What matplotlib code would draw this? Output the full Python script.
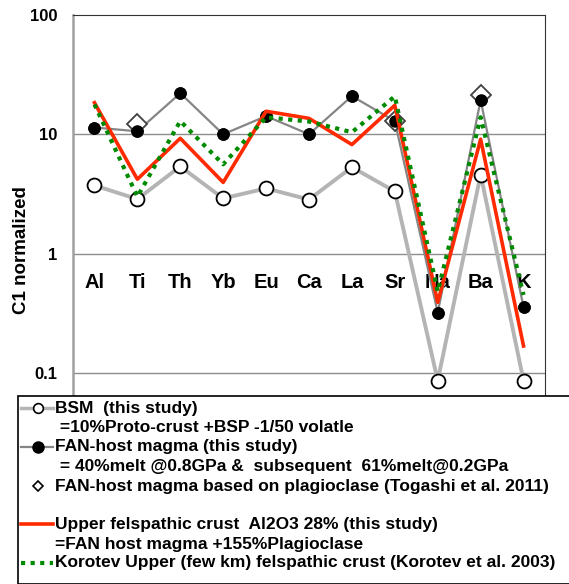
import matplotlib
matplotlib.use("Agg")
import matplotlib.pyplot as plt
import numpy as np
from matplotlib.lines import Line2D
from matplotlib.patches import Rectangle

plt.rcParams['font.family'] = ['Liberation Sans', 'DejaVu Sans']
plt.rcParams['font.weight'] = 'bold'

elements = ["Al", "Ti", "Th", "Yb", "Eu", "Ca", "La", "Sr", "Na", "Ba", "K"]
bsm = [3.73, 2.86, 5.38, 2.9, 3.52, 2.84, 5.3, 3.32, 0.086, 4.6, 0.086]
fan_host = [11.4, 10.6, 22.1, 10.0, 14.2, 10.0, 20.9, 12.9, 0.32, 19.3, 0.355]
togashi = [np.nan, 12.1, np.nan, np.nan, np.nan, np.nan, np.nan, 12.9, np.nan, 21.3, np.nan]
upper_crust = [18.4, 4.2, 9.25, 3.95, 15.6, 13.6, 8.2, 17.5, 0.39, 9.1, 0.168]
korotev = [17.8, 3.0, 12.9, 5.6, 13.9, 12.8, 10.4, 20.8, 0.48, 13.9, 0.45]

W, H = 569, 584
fig = plt.figure(figsize=(W / 100, H / 100), dpi=100)
ax = fig.add_axes([73 / W, 1 - 396 / H, 472 / W, 381 / H])

x = np.arange(len(elements))
c_bsm = "#b4b4b4"
c_fan = "#858585"
c_red = "#ff2a00"
c_grn = "#008a00"

ax.plot(x, bsm, color=c_bsm, lw=2.8, marker="o", ms=10, mfc="white", mec="black", mew=1.3, zorder=3)
ax.plot(x, fan_host, color=c_fan, lw=1.6, marker="o", ms=8, mfc="black", mec="black", zorder=4)
ax.plot(x, togashi, ls="none", marker="D", ms=10, mfc="white", mec="#404040", mew=1.3, zorder=5)
ax.plot(x, fan_host, ls="none", marker="o", ms=8, mfc="black", mec="black", zorder=5)
ax.plot(x, upper_crust, color=c_red, lw=2.6, zorder=6)
ax.plot(x, korotev, color=c_grn, lw=3.0, ls=(0, (1, 1.3)), zorder=7)

ax.set_yscale("log")
ax.set_ylim(0.064, 100)
ax.set_xlim(-0.5, len(elements) - 0.5)
ax.set_xticks([])
ax.set_yticks([0.1, 1, 10, 100])
ax.set_yticklabels(["0.1", "1", "10", "100"], fontsize=12, fontweight="bold")
ax.yaxis.set_minor_locator(matplotlib.ticker.NullLocator())
ax.tick_params(axis="y", length=0, pad=11.5)
for v in [0.1, 1, 10]:
    ax.axhline(v, color="#8c8c8c", lw=1.0, zorder=1)
ax.spines["top"].set_color("#333333")
ax.spines["right"].set_color("#333333")
ax.spines["left"].set_color("#a0a0a0")
ax.spines["left"].set_linewidth(1.8)
ax.spines["bottom"].set_visible(False)

for i, name in enumerate(elements):
    ax.text(i, 0.57, name, ha="center", va="center", fontsize=14.5, fontweight="bold", zorder=2)

fig.text(22 / W, 1 - 250 / H, "C1 normalized", rotation=90, ha="center", va="center",
         fontsize=13.5, fontweight="bold")

# legend box drawn by hand
def fy(py):
    return 1 - py / H

fig.patches.append(Rectangle((18 / W, 0), 1, fy(396), transform=fig.transFigure,
                             facecolor="white", edgecolor="black", lw=1.2, zorder=10))

rows = [
    (408, "BSM  (this study)"),
    (428, " =10%Proto-crust +BSP -1/50 volatle"),
    (447, "FAN-host magma (this study)"),
    (467, " = 40%melt @0.8GPa &  subsequent  61%melt@0.2GPa"),
    (486, "FAN-host magma based on plagioclase (Togashi et al. 2011)"),
    (524, "Upper felspathic crust  Al2O3 28% (this study)"),
    (544, "=FAN host magma +155%Plagioclase"),
    (563, "Korotev Upper (few km) felspathic crust (Korotev et al. 2003)"),
]
for py, label in rows:
    fig.text(55 / W, fy(py), label, ha="left", va="center", fontsize=12.5, fontweight="bold", zorder=11)

def handle(py, **kw):
    fig.add_artist(Line2D([21 / W, 53 / W], [fy(py), fy(py)], transform=fig.transFigure, zorder=11, **kw))

def marker(py, **kw):
    fig.add_artist(Line2D([38 / W], [fy(py)], transform=fig.transFigure, ls="none", zorder=12, **kw))

handle(408, color=c_bsm, lw=2.5)
marker(408, marker="o", ms=7, mfc="white", mec="black", mew=1.2)
handle(447, color=c_fan, lw=1.6)
marker(447, marker="o", ms=8, mfc="black", mec="black")
marker(486, marker="D", ms=5, mfc="white", mec="black", mew=1.2)
handle(524, color=c_red, lw=2.6)
handle(563, color=c_grn, lw=3.0, ls=(0, (1, 1.3)))

fig.savefig("out.png", dpi=100)
